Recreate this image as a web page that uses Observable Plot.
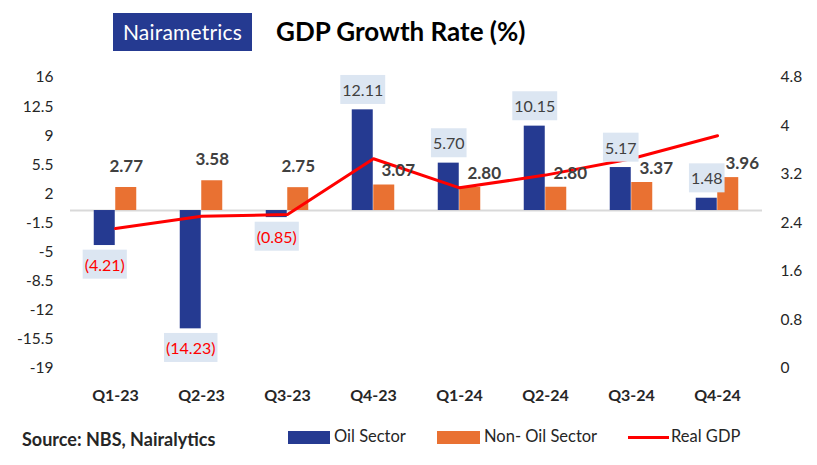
<!DOCTYPE html>
<html>
<head>
<meta charset="utf-8">
<script src="https://cdn.jsdelivr.net/npm/d3@7"></script>
<script src="https://cdn.jsdelivr.net/npm/@observablehq/plot@0.6"></script>
<style>
  html, body { margin: 0; padding: 0; background: #fff; }
  body { width: 817px; height: 465px; overflow: hidden; font-family: Lato, "Open Sans", sans-serif; }
  #header { position: relative; width: 817px; height: 60px; }
  #logo { position: absolute; left: 113px; top: 13px; width: 139px; height: 38px; background: #253a91;
          color: #fff; font-size: 21px; line-height: 38px; text-align: center; letter-spacing: 0.2px; }
  #title { position: absolute; left: 276px; top: 15px; font-size: 26px; font-weight: bold; color: #000; }
  #chart { width: 817px; height: 360px; }
  #footer { position: relative; width: 817px; height: 45px; color: #262626; }
  #source { position: absolute; left: 22px; top: 8px; font-size: 18px; font-weight: bold; }
  .leg { position: absolute; top: 6px; font-size: 16.5px; color: #262626; }
  .sw { position: absolute; top: 11px; height: 13px; }
</style>
</head>
<body>
<div id="header">
  <div id="logo">Nairametrics</div>
  <div id="title">GDP Growth Rate (%)</div>
</div>
<div id="chart"></div>
<div id="footer">
  <div id="source">Source: NBS, Nairalytics</div>
  <div class="sw" style="left:288px;width:42px;background:#253a91"></div>
  <div class="leg" style="left:334px">Oil Sector</div>
  <div class="sw" style="left:437px;width:43px;background:#e97132"></div>
  <div class="leg" style="left:484px">Non- Oil Sector</div>
  <div class="sw" style="left:628px;width:41px;top:16px;height:3px;background:#ff0000"></div>
  <div class="leg" style="left:671px">Real GDP</div>
</div>
<script>
const quarters = ["Q1-23","Q2-23","Q3-23","Q4-23","Q1-24","Q2-24","Q3-24","Q4-24"];
const oilSector = [-4.21,-14.23,-0.85,12.11,5.70,10.15,5.17,1.48];
const nonOilSector = [2.77,3.58,2.75,3.07,2.80,2.80,3.37,3.96];
const realGdp = [2.31,2.51,2.54,3.46,2.98,3.19,3.46,3.84];
const leftTicks = [16,12.5,9,5.5,2,-1.5,-5,-8.5,-12,-15.5,-19];
const rightTicks = [0,0.8,1.6,2.4,3.2,4,4.8];

const leftMin = -19, leftMax = 16, rightMax = 4.8;
const toLeft = r => leftMin + r * (leftMax - leftMin) / rightMax;
const toRight = v => (v - leftMin) * rightMax / (leftMax - leftMin);

const rows = quarters.map((q, i) => ({q, oil: oilSector[i], non: nonOilSector[i], gdp: realGdp[i], i}));

const W = 817, H = 360, mL = 70, mR = 55, mT = 17, mB = 52;
const bw = (W - mL - mR) / quarters.length;
const half = bw / 2;
const barW = 21.5;
const oilFmt = v => v < 0 ? `(${Math.abs(v).toFixed(2)})` : v.toFixed(2);

const plot = Plot.plot({
  width: W, height: H,
  marginLeft: mL, marginRight: mR, marginTop: mT, marginBottom: mB,
  style: {fontFamily: "Lato, 'Open Sans', sans-serif", color: "#262626", background: "#fff"},
  x: {domain: quarters, padding: 0},
  y: {domain: [leftMin, leftMax]},
  marks: [
    Plot.ruleY([0], {stroke: "#d9d9d9", strokeWidth: 2}),
    Plot.barY(rows, {x: "q", y: "oil", fill: "#253a91", insetLeft: half - barW, insetRight: half}),
    Plot.barY(rows, {x: "q", y: "non", fill: "#e97132", insetLeft: half, insetRight: half - barW}),
    Plot.lineY(rows, {x: "q", y: d => toLeft(d.gdp), stroke: "#ff0000", strokeWidth: 3}),
    Plot.text(rows.filter(d => d.oil >= 0), {x: "q", y: "oil", text: d => oilFmt(d.oil), dx: -barW / 2, dy: -19,
      fill: "#404040", fontSize: 16, lineAnchor: "middle"}),
    Plot.text(rows.filter(d => d.oil < 0), {x: "q", y: "oil", text: d => oilFmt(d.oil), dx: -barW / 2, dy: 20,
      fill: "#ff0000", fontSize: 16, lineAnchor: "middle"}),
    Plot.text(rows.filter(d => d.i < 3), {x: "q", y: "non", text: d => d.non.toFixed(2), dx: barW / 2, dy: -21,
      fill: "#404040", fontSize: 17, fontWeight: "bold", lineAnchor: "middle"}),
    Plot.text(rows.filter(d => d.i >= 3), {x: "q", y: "non", text: d => d.non.toFixed(2), dx: barW / 2 + 14, dy: -14,
      fill: "#404040", fontSize: 17, fontWeight: "bold", lineAnchor: "middle"}),
    Plot.axisY(leftTicks, {anchor: "left", tickSize: 0, tickPadding: 17, fontSize: 15.5, label: null, tickFormat: d => String(d)}),
    Plot.axisY(rightTicks.map(toLeft), {anchor: "right", tickSize: 0, tickPadding: 18, fontSize: 15.5, label: null,
      tickFormat: v => String(+toRight(v).toFixed(1))}),
    Plot.axisX({tickSize: 0, tickPadding: 21, fontSize: 16, fontWeight: "bold", label: null})
  ]
});
document.getElementById("chart").appendChild(plot);

// light-blue label boxes behind the oil-sector labels
const textGroups = plot.querySelectorAll('g[aria-label="text"]');
[textGroups[0], textGroups[1]].forEach(g => {
  if (!g) return;
  g.querySelectorAll("text").forEach(t => {
    const b = t.getBBox();
    const r = document.createElementNS("http://www.w3.org/2000/svg", "rect");
    r.setAttribute("x", b.x - 2);
    r.setAttribute("y", b.y - 5);
    r.setAttribute("width", b.width + 4);
    r.setAttribute("height", b.height + 10);
    r.setAttribute("fill", "#dce6f2");
    const tr = t.getAttribute("transform");
    if (tr) r.setAttribute("transform", tr);
    t.parentNode.insertBefore(r, t);
  });
});
</script>
</body>
</html>
